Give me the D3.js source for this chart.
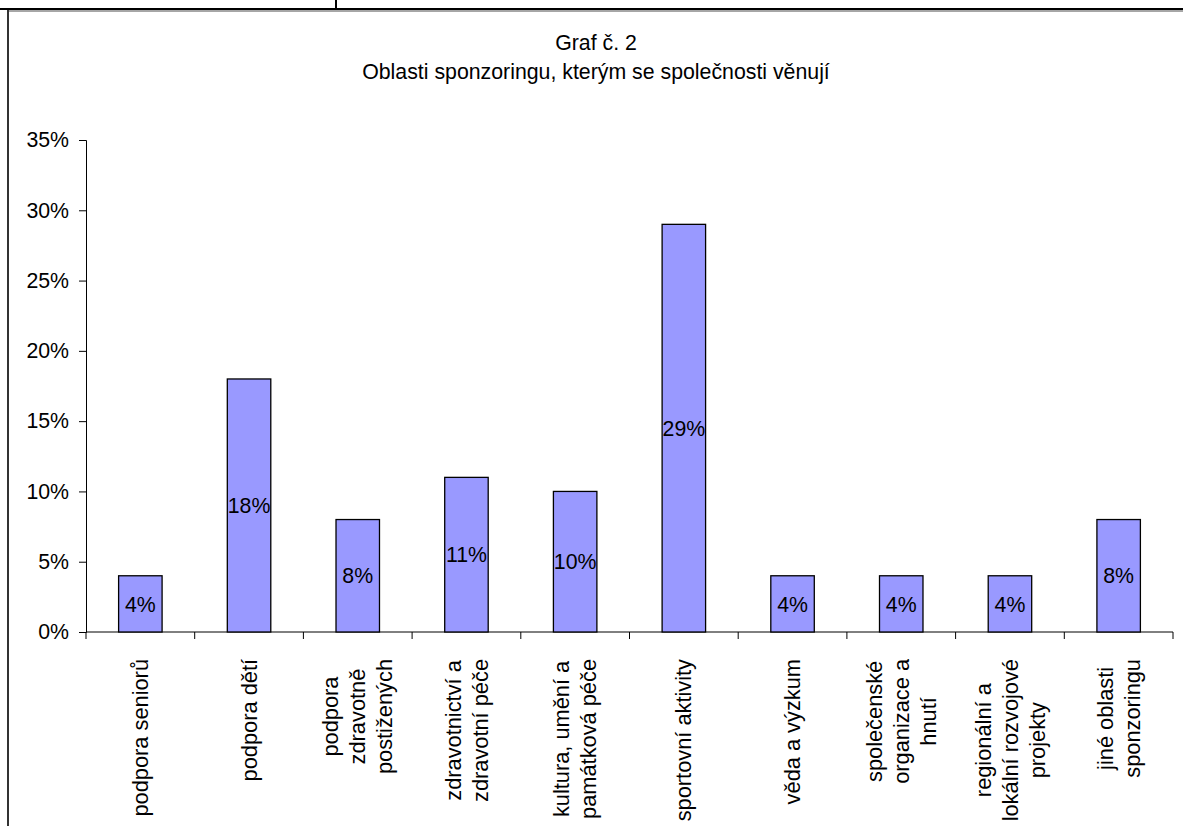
<!DOCTYPE html>
<html>
<head>
<meta charset="utf-8">
<script src="https://cdn.jsdelivr.net/npm/d3@7"></script>
<style>
  html, body { margin: 0; padding: 0; background: #fff; }
  svg { display: block; }
  text { font-family: "Liberation Sans", Arial, sans-serif; fill: #000; }
</style>
</head>
<body>
<svg id="chart" width="1183" height="826"></svg>
<script>
// Sponsorship areas and the share of companies engaged in each (%)
const categories = [
  ["podpora seniorů"],
  ["podpora dětí"],
  ["podpora", "zdravotně", "postižených"],
  ["zdravotnictví a", "zdravotní péče"],
  ["kultura, umění a", "památková péče"],
  ["sportovní aktivity"],
  ["věda a výzkum"],
  ["společenské", "organizace a", "hnutí"],
  ["regionální a", "lokální rozvojové", "projekty"],
  ["jiné oblasti", "sponzoringu"]
];
const values = [4, 18, 8, 11, 10, 29, 4, 4, 4, 8];
const yTicks = [0, 5, 10, 15, 20, 25, 30, 35];
const titleLines = ["Graf č. 2", "Oblasti sponzoringu, kterým se společnosti věnují"];

const svg = d3.select("#chart");
const W = 1183, H = 826;
const FONT = 21.3;
const CAT_FONT = 21.8;

// page frame lines
svg.append("line").attr("x1", 0).attr("x2", W).attr("y1", 9).attr("y2", 9)
  .attr("stroke", "#000").attr("stroke-width", 2);
svg.append("line").attr("x1", 336).attr("x2", 336).attr("y1", 0).attr("y2", 9)
  .attr("stroke", "#000").attr("stroke-width", 2);
// chart area border
svg.append("line").attr("x1", 8).attr("x2", W).attr("y1", 11).attr("y2", 11)
  .attr("stroke", "#888").attr("stroke-width", 1.5);
svg.append("line").attr("x1", 8).attr("x2", 8).attr("y1", 10).attr("y2", H)
  .attr("stroke", "#333").attr("stroke-width", 2);

// title
const title = svg.append("text").attr("x", 596).attr("y", 50)
  .attr("text-anchor", "middle").style("font-size", FONT + "px");
titleLines.forEach((t, i) => {
  title.append("tspan").attr("x", 596).attr("dy", i === 0 ? 0 : 29).text(t);
});

// plot area
const plot = { left: 86, right: 1173, top: 140, bottom: 632 };

const x = d3.scaleBand()
  .domain(d3.range(categories.length))
  .range([plot.left, plot.right])
  .paddingInner(0.6)
  .paddingOuter(0.3);

const y = d3.scaleLinear().domain([0, 35]).range([plot.bottom, plot.top]);

// y axis
const yAxis = svg.append("g")
  .attr("transform", `translate(${plot.left},0)`)
  .call(d3.axisLeft(y).tickValues(yTicks).tickFormat(d => d + "%")
    .tickSize(7).tickPadding(10));
yAxis.select(".domain").attr("stroke", "#000");
yAxis.selectAll(".tick line").attr("stroke", "#000");
yAxis.selectAll(".tick text")
  .style("font-size", FONT + "px")
  .style("font-family", '"Liberation Sans", Arial, sans-serif')
  .attr("fill", "#000");

// x axis baseline with category separators
const step = x.step();
const bounds = d3.range(categories.length + 1).map(i => plot.left + i * step);
svg.append("line").attr("x1", plot.left).attr("x2", plot.right)
  .attr("y1", plot.bottom).attr("y2", plot.bottom).attr("stroke", "#000");
svg.selectAll(".xtick").data(bounds).join("line")
  .attr("class", "xtick")
  .attr("x1", d => d).attr("x2", d => d)
  .attr("y1", plot.bottom).attr("y2", plot.bottom + 7)
  .attr("stroke", "#000");

// bars
svg.selectAll(".bar").data(values).join("rect")
  .attr("class", "bar")
  .attr("x", (d, i) => x(i))
  .attr("y", d => y(d))
  .attr("width", x.bandwidth())
  .attr("height", d => y(0) - y(d))
  .attr("fill", "#9999ff")
  .attr("stroke", "#000")
  .attr("stroke-width", 1.3);

// value labels centred in bars
svg.selectAll(".vlabel").data(values).join("text")
  .attr("class", "vlabel")
  .attr("x", (d, i) => x(i) + x.bandwidth() / 2)
  .attr("y", d => (y(d) + y(0)) / 2)
  .attr("dy", "0.36em")
  .attr("text-anchor", "middle")
  .style("font-size", FONT + "px")
  .text(d => d + "%");

// rotated category labels, block aligned to the axis, lines centred
const labelTop = 659;
const pitch = 27;
categories.forEach((lines, i) => {
  const cx = plot.left + (i + 0.5) * step;
  const g = svg.append("g");
  const texts = lines.map(t => g.append("text")
    .attr("text-anchor", "middle")
    .attr("dy", "0.35em")
    .style("font-size", CAT_FONT + "px")
    .text(t));
  const maxW = d3.max(texts, t => t.node().getComputedTextLength());
  texts.forEach((t, j) => {
    const off = (j - (lines.length - 1) / 2) * pitch;
    t.attr("transform", `translate(${cx + off},${labelTop + maxW / 2}) rotate(-90)`);
  });
});
</script>
</body>
</html>
